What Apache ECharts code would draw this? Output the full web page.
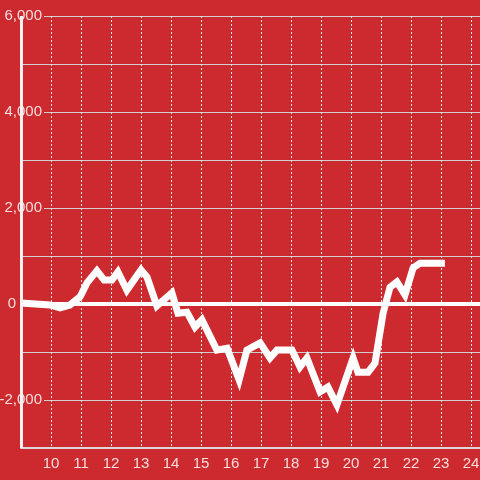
<!DOCTYPE html>
<html>
<head>
<meta charset="utf-8">
<script src="https://cdn.jsdelivr.net/npm/echarts@6/dist/echarts.min.js"></script>
<style>
html,body{margin:0;padding:0;background:#cc2a2f;}
#main{width:480px;height:480px;}
</style>
</head>
<body>
<div id="main"></div>
<script>
var hours = [9.0, 9.97, 10.3, 10.63, 10.97, 11.2, 11.53, 11.77, 12.03, 12.23, 12.53, 13.0, 13.2, 13.53, 14.03, 14.23, 14.53, 14.8, 15.03, 15.53, 15.87, 16.27, 16.53, 16.97, 17.3, 17.53, 18.03, 18.3, 18.53, 18.97, 19.23, 19.53, 20.07, 20.23, 20.57, 20.8, 21.07, 21.3, 21.53, 21.8, 22.07, 22.3, 23.13];
var values = [20, -20, -80, -20, 150, 440, 690, 500, 500, 670, 290, 710, 560, -40, 230, -190, -170, -480, -330, -960, -920, -1580, -960, -810, -1125, -960, -960, -1310, -1125, -1830, -1730, -2100, -1125, -1420, -1420, -1230, -190, 350, 460, 190, 750, 850, 850];
var yLabelValues = [6000, 4000, 2000, 0, -2000];
var xLabelValues = [10, 11, 12, 13, 14, 15, 16, 17, 18, 19, 20, 21, 22, 23, 24];

var bg = '#cc2a2f';
var textCol = 'rgba(255,235,235,0.92)';
function fmt(v){
  var s = String(Math.abs(v)).replace(/\B(?=(\d{3})+(?!\d))/g, ',');
  return (v < 0 ? '-' : '') + s;
}
var pts = hours.map(function(h, i){ return [h, values[i]]; });
var chart = echarts.init(document.getElementById('main'), null, {renderer:'canvas'});
chart.setOption({
  backgroundColor: bg,
  animation: false,
  grid: {left: 21, right: 0, top: 16, bottom: 32, containLabel: false, outerBoundsMode: 'none'},
  xAxis: {
    type: 'value', min: 9, max: 24.3, interval: 1,
    axisLine: {show: true, onZero: false, lineStyle: {color: '#d8d8d8', width: 2}},
    axisTick: {show: false},
    axisLabel: {
      color: textCol, fontSize: 15, fontFamily: 'Liberation Sans', margin: 8,
      formatter: function(v){ return xLabelValues.indexOf(v) >= 0 ? String(v) : ''; }
    },
    splitLine: {show: true, lineStyle: {color: '#e8e8e8', width: 1, type: [2, 2]}}
  },
  yAxis: {
    type: 'value', min: -3000, max: 6000, interval: 1000,
    axisLine: {show: false},
    axisTick: {show: false},
    axisLabel: {
      color: textCol, fontSize: 15, fontFamily: 'Liberation Sans',
      margin: -23, align: 'right',
      formatter: function(v){
        if (yLabelValues.indexOf(v) < 0) return '';
        if (v === 0) return '{z|0}';
        return '{n|' + fmt(v) + '}';
      },
      rich: {
        n: {color: textCol, fontSize: 15, fontFamily: 'Liberation Sans', backgroundColor: bg, padding: [0, 2, 0, 2]},
        z: {color: textCol, fontSize: 15, fontFamily: 'Liberation Sans', backgroundColor: bg, padding: [0, 28, 0, 2]}
      }
    },
    splitLine: {show: true, lineStyle: {color: '#cfcfcf', width: 1}}
  },
  series: [{
    type: 'line',
    data: pts,
    showSymbol: false,
    symbol: 'none',
    lineStyle: {color: '#ffffff', width: 7, join: 'miter'},
    z: 3,
    markLine: {
      silent: true, symbol: 'none', animation: false,
      label: {show: false},
      data: [
        {yAxis: 0, lineStyle: {color: '#ffffff', width: 4, type: 'solid'}},
        {xAxis: 9, lineStyle: {color: '#f2f2f2', width: 3, type: 'solid'}}
      ]
    }
  }]
});
</script>
</body>
</html>
